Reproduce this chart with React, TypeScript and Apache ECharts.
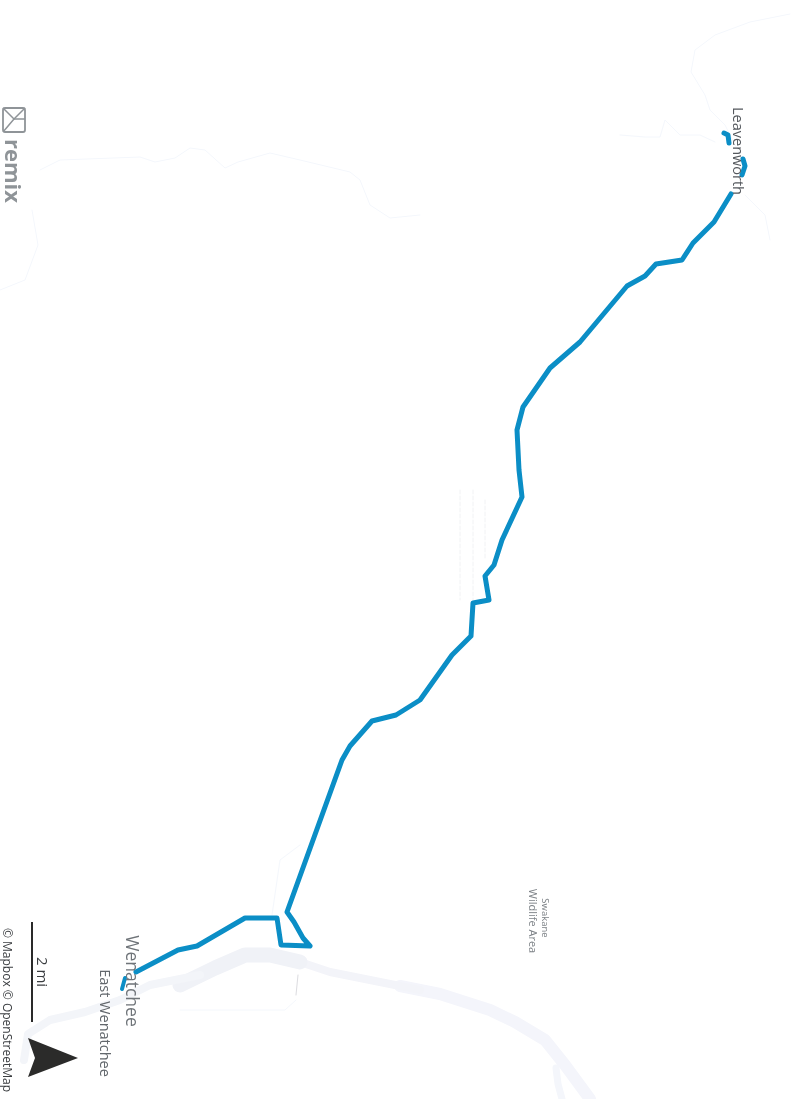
import React, { useEffect, useRef } from "react";
import * as echarts from "echarts";

const mainRoute = [[731,194],[714,222],[693,243],[682,260],[656,264],[645,276],[627,286],[580,342],[550,368],[523,407],[517,430],[519,470],[522,497],[502,540],[494,565],[485,576],[489,600],[473,603],[471,636],[452,655],[420,700],[396,715],[372,721],[350,746],[342,760],[287,912],[294,922],[303,938],[310,946],[281,945],[277,918],[245,918],[197,946],[178,950],[136,972]];
const leavenworthA = [[724,133],[728,135],[729,143]];
const leavenworthB = [[743,159],[745,166],[742,175]];
const wenatcheeSpur = [[125,978],[122,989]];
const riverLower = [[590,1099],[565,1065],[545,1040],[515,1022],[490,1010],[440,994],[400,986]];
const riverMiddle = [[420,990],[360,978],[330,972],[300,962]];
const riverBend = [[300,962],[270,955],[245,955],[215,968],[180,985]];
const riverUpper = [[200,975],[150,985],[120,1000],[85,1012],[50,1020],[28,1034],[24,1060]];
const riverBranch = [[556,1068],[558,1084],[562,1099]];
const faintRoads = [
  [[790,14],[750,22],[715,35],[695,50],[691,72],[705,95],[710,110],[725,125],[735,145],[745,165]],
  [[620,135],[645,137],[660,137],[665,120],[680,135],[700,135],[715,142]],
  [[40,170],[60,160],[140,157],[155,162],[175,158],[190,148],[205,150],[225,168],[238,162],[270,153],[300,160],[350,172],[360,180],[370,205],[390,218],[420,215]],
  [[0,290],[25,280],[38,245],[32,210]],
  [[300,845],[280,860],[272,915]],
  [[296,1000],[285,1010],[180,1010]],
  [[745,195],[765,215],[770,240]],
];
const grayRoads = [[[298,975],[296,995]]];
const dottedRoads = [
  [[460,490],[460,600]],
  [[473,490],[473,600]],
  [[485,500],[485,560]],
];

const ROUTE = "#0b8ec6";

export default function App() {
  const ref = useRef<HTMLDivElement>(null);
  useEffect(() => {
    const chart = echarts.init(ref.current!, null, { renderer: "svg" });
    const line = (data: number[][], color: string, width: number, extra: any = {}) => ({
      type: "line", data, symbol: "none", silent: true, smooth: false,
      lineStyle: { color, width, cap: "round", join: "round", ...extra },
    });
    const vText = (text: string, x: number, y: number, size: number, fill: string, weight: any = "normal") => ({
      type: "text", x, y, z: 100, rotation: -Math.PI / 2,
      style: { text, fontSize: size, fill, fontFamily: "Open Sans, Liberation Sans, sans-serif", fontWeight: weight, textAlign: "center", textVerticalAlign: "middle" },
    });
    chart.setOption({
      animation: false,
      backgroundColor: "#ffffff",
      grid: { left: 0, right: 0, top: 0, bottom: 0 },
      xAxis: { type: "value", min: 0, max: 796, show: false },
      yAxis: { type: "value", min: 0, max: 1099, inverse: true, show: false },
      series: [
        line(riverLower, "#f4f5fb", 12),
        line(riverMiddle, "#f3f4f9", 8),
        line(riverBend, "#f0f2f7", 15),
        line(riverUpper, "#f3f5f9", 8),
        line(riverBranch, "#f4f6fb", 7),
        ...faintRoads.map((r) => line(r, "#f4f7fc", 1)),
        ...grayRoads.map((r) => line(r, "#dcdce0", 1)),
        ...dottedRoads.map((r) => line(r, "#f1f2f4", 1, { type: "dashed" })),
        line(mainRoute, ROUTE, 5),
        line(leavenworthA, ROUTE, 5),
        line(leavenworthB, ROUTE, 5),
        line(wenatcheeSpur, ROUTE, 4),
      ],
      graphic: [
        vText("Leavenworth", 738, 151, 14.5, "#55595e"),
        vText("Wenatchee", 133, 981, 17.5, "#6f7479"),
        vText("East Wenatchee", 105, 1023, 14.5, "#62676c"),
        vText("Swakane", 545, 918, 9.5, "#7d8287"),
        vText("Wildlife Area", 533, 921, 11, "#7d8287"),
        vText("2 mi", 43, 972, 15, "#3a3d40"),
        vText("© Mapbox © OpenStreetMap", 7.5, 1010, 12, "#3a3d40"),
        vText("remix", 13.5, 171, 22, "#8f9498", "bold"),
        { type: "line", z: 100, shape: { x1: 32, y1: 922, x2: 32, y2: 1022 }, style: { stroke: "#2a2a2a", lineWidth: 2 } },
        { type: "polygon", z: 100, shape: { points: [[78,1058],[28,1038],[35,1058],[28,1077]] }, style: { fill: "#2b2b2a" } },
        { type: "rect", z: 100, shape: { x: 3, y: 108, width: 22, height: 24, r: 2 }, style: { fill: "none", stroke: "#8f9498", lineWidth: 1.8 } },
        { type: "polyline", z: 100, shape: { points: [[3,108],[14,119],[25,108]] }, style: { fill: "none", stroke: "#8f9498", lineWidth: 1.5 } },
        { type: "polyline", z: 100, shape: { points: [[3,132],[14,119],[25,119]] }, style: { fill: "none", stroke: "#8f9498", lineWidth: 1.5 } },
      ],
    });
    return () => chart.dispose();
  }, []);
  return <div ref={ref} style={{ position: "absolute", left: 0, top: 0, width: 796, height: 1099, filter: "blur(0.5px)" }} />;
}
